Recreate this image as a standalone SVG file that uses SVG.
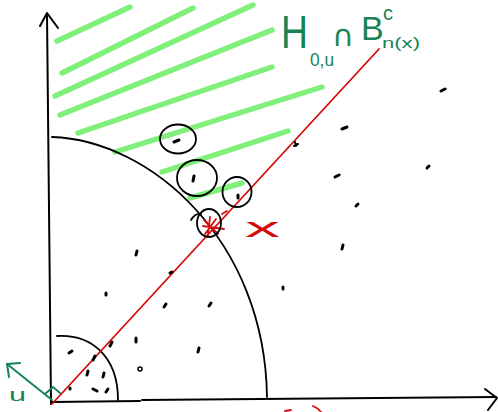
<svg xmlns="http://www.w3.org/2000/svg" width="498" height="412" viewBox="0 0 498 412">
<style>
.ax{fill:none;stroke:#000;stroke-width:2;stroke-linecap:round;stroke-linejoin:round}
.arc{fill:none;stroke:#000;stroke-width:1.8;stroke-linecap:round}
.hatch{stroke:#80f07a;stroke-width:5.5;stroke-linecap:round}
.red{fill:none;stroke:#d40c0c;stroke-width:1.8;stroke-linecap:round;stroke-linejoin:round}
.circ{fill:none;stroke:#000;stroke-width:1.8}
.dot{stroke:#000;stroke-width:3;stroke-linecap:round}
.grn{fill:none;stroke:#178356;stroke-width:2;stroke-linecap:round;stroke-linejoin:round}
.gt{fill:#178356;font-family:"Liberation Sans",Arial,sans-serif}
.rt{fill:#d40c0c;font-family:"Liberation Sans",Arial,sans-serif}
</style>
<rect width="498" height="412" fill="#fff"/>
<g id="hatching">
<line class="hatch" x1="57" y1="41" x2="130" y2="7"/>
<line class="hatch" x1="62" y1="73" x2="193" y2="8"/>
<line class="hatch" x1="55" y1="96" x2="253" y2="5"/>
<line class="hatch" x1="60" y1="115" x2="272" y2="30"/>
<line class="hatch" x1="78" y1="133" x2="272" y2="67"/>
<line class="hatch" x1="115" y1="152" x2="322" y2="87"/>
<line class="hatch" x1="162" y1="172" x2="288" y2="131"/>
<line class="hatch" x1="190" y1="198" x2="242" y2="183"/>
</g>
<g id="axes">
<polyline class="ax" points="51,404 47,14"/>
<polyline class="ax" points="40,26 47,13 58,28"/>
<polyline class="ax" points="52,402 140,401"/>
<polyline class="ax" points="142,400 496,397"/>
<polyline class="ax" points="485,389 497,398 488,410"/>
</g>
<g id="arcs">
<path class="arc" d="M 52 137 C 150 140 265 240 267 397"/>
<path class="arc" d="M 57 336 C 90 334 118 355 118 400"/>
</g>
<g id="hyperplane">
<line class="red" x1="52" y1="404" x2="379" y2="49"/>
<path class="red" d="M 203 226 L 224 229 M 210 217 L 208 236 M 204 220 L 218 234 M 216 219 L 205 234"/>
<path class="red" d="M 222 214 L 227 211"/>
<path class="red" d="M 285 411 L 291 410 M 313 406 Q 318 408 321 412"/>
</g>
<g id="balls">
<ellipse class="circ" cx="178" cy="139" rx="18" ry="14.5"/>
<ellipse class="circ" cx="197" cy="178" rx="20" ry="18"/>
<ellipse class="circ" cx="237" cy="192" rx="14.5" ry="15"/>
<ellipse class="circ" cx="209" cy="223" rx="12" ry="14"/>
<path class="arc" d="M 191 220 Q 195 213 201 214" stroke-width="1.2"/>
</g>
<g id="points">
<line class="dot" x1="174" y1="142" x2="179" y2="140"/>
<line class="dot" x1="194" y1="176" x2="193" y2="181"/>
<line class="dot" x1="238" y1="195" x2="238" y2="198"/>
<line class="dot" x1="441" y1="91" x2="445" y2="89"/>
<line class="dot" x1="342" y1="129" x2="347" y2="127"/>
<path class="ax" d="M 294 146 L 298 144 M 295 142 L 296 146" stroke-width="1.6"/>
<line class="dot" x1="427" y1="168" x2="429" y2="166"/>
<line class="dot" x1="335" y1="177" x2="339" y2="175"/>
<line class="dot" x1="356" y1="206" x2="358" y2="204"/>
<line class="dot" x1="343" y1="245" x2="342" y2="249" stroke-width="2"/>
<line class="dot" x1="283" y1="287" x2="283" y2="289"/>
<line class="dot" x1="136" y1="255" x2="137" y2="251"/>
<line class="dot" x1="170" y1="273" x2="172" y2="272" stroke-width="2"/>
<line class="dot" x1="106" y1="293" x2="106" y2="295"/>
<line class="dot" x1="164" y1="307" x2="166" y2="304"/>
<line class="dot" x1="209" y1="306" x2="211" y2="303"/>
<line class="dot" x1="136" y1="338" x2="136" y2="342"/>
<line class="dot" x1="110" y1="346" x2="112" y2="342"/>
<line class="dot" x1="198" y1="352" x2="199" y2="348"/>
<line class="dot" x1="69" y1="353" x2="72" y2="351"/>
<line class="dot" x1="93" y1="360" x2="95" y2="356"/>
<line class="dot" x1="87" y1="375" x2="88" y2="371"/>
<line class="dot" x1="103" y1="377" x2="104" y2="373"/>
<line class="dot" x1="70" y1="388" x2="70" y2="389"/>
<line class="dot" x1="93" y1="389" x2="97" y2="391"/>
<line class="dot" x1="106" y1="392" x2="108" y2="389"/>
<circle cx="140" cy="369" r="2" fill="none" stroke="#000" stroke-width="1.5"/>
</g>
<g id="normal">
<line class="grn" x1="52" y1="400" x2="7" y2="364"/>
<polyline class="grn" points="20,363 7,364 9,377"/>
<polyline class="grn" points="45,394 53,387 60,393"/>
<text class="gt" x="9" y="401" font-size="18" textLength="17" lengthAdjust="spacingAndGlyphs">u</text>
</g>
<g id="labels">
<text class="gt" x="281" y="48" font-size="46" textLength="27" lengthAdjust="spacingAndGlyphs">H</text>
<text class="gt" x="310" y="66" font-size="18" textLength="24" lengthAdjust="spacingAndGlyphs">0,u</text>
<text class="gt" x="332" y="46" font-size="30" style="font-family:'DejaVu Sans',sans-serif">∩</text>
<text class="gt" x="361" y="40" font-size="34">B</text>
<text class="gt" x="383" y="20" font-size="20">c</text>
<text class="gt" x="382" y="48" font-size="15" textLength="38" lengthAdjust="spacingAndGlyphs">n(x)</text>
<text class="rt" x="245" y="237" font-size="28" textLength="35" lengthAdjust="spacingAndGlyphs">x</text>
</g>
</svg>
